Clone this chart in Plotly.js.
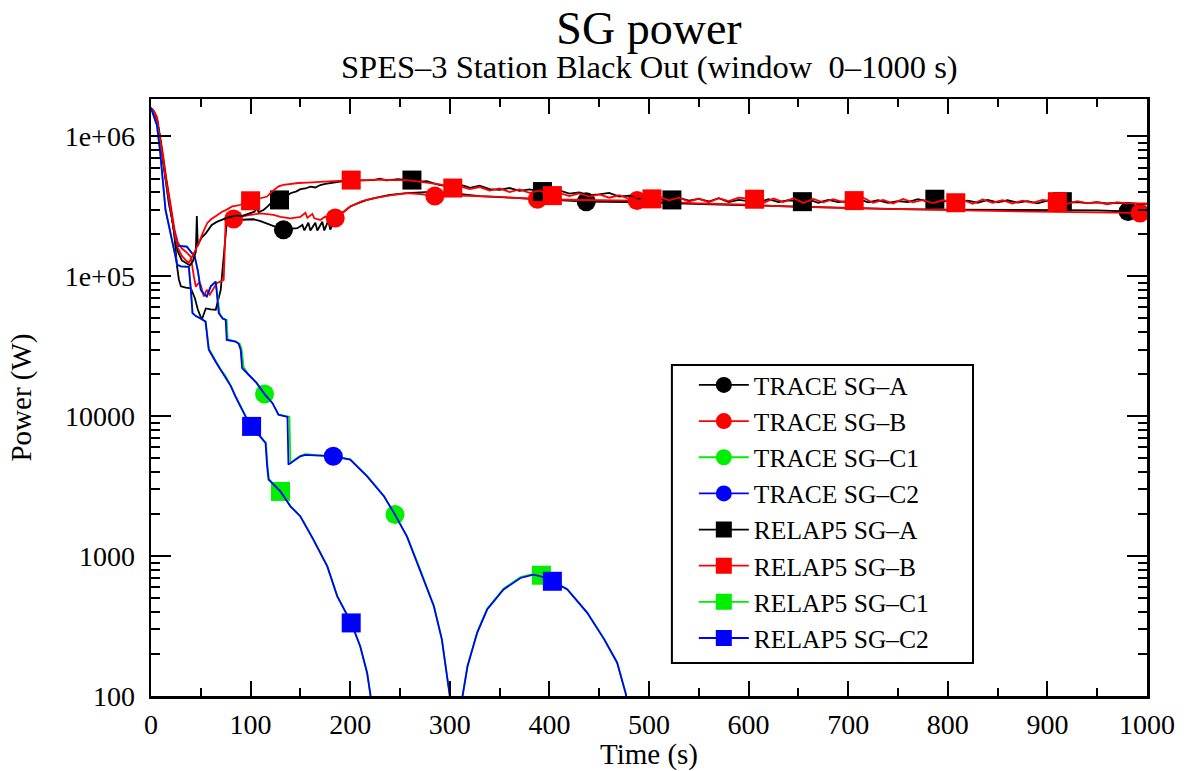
<!DOCTYPE html>
<html>
<head>
<meta charset="utf-8">
<script src="https://cdn.plot.ly/plotly-3.0.1.min.js"></script>
<style>html,body{margin:0;padding:0;background:#fff;}#chart{width:1192px;height:771px;}</style>
</head>
<body>
<div id="chart"></div>
<script>
// ---------------- DATA ----------------
const seriesNames = ['TRACE SG–A','TRACE SG–B','TRACE SG–C1','TRACE SG–C2','RELAP5 SG–A','RELAP5 SG–B','RELAP5 SG–C1','RELAP5 SG–C2'];
const chartTitle = 'SG power';
const chartSubtitle = 'SPES–3 Station Black Out (window  0–1000 s)';

// TRACE SG-A
const tA_x = [0,3,6,9,12,15,18,21,24,26,28,30,35,40,44,47,51,55,60,65,70,73,76,80,85,90,96,103,110,120,127,133,140,147,152,154,158,160,165,167,172,174,178,180,185,190,200,210,217,230,240,257,270,285,300,330,360,400,437,480,520,560,600,650,700,750,800,850,900,950,981,1000];
const tA_y = [1600000,1500000,1350000,1000000,700000,500000,370000,270000,180000,120000,95000,85000,83000,82000,70000,58000,49000,59000,58000,57700,80000,138000,240000,250000,253000,253000,255000,256000,248000,233000,222000,215000,219000,221000,233000,213000,242000,213000,242000,213000,246000,213000,250000,216000,258000,275000,316000,338000,352000,370000,382000,393000,400000,404000,395000,375000,365000,352000,342000,340000,335000,330000,322000,315000,308000,302000,300000,299000,298000,296000,291000,290000];
const tA_mk = [133,437,981];

// TRACE SG-B
const tB_x = [0,3,6,9,12,15,18,21,24,27,31,35,40,43,45,48,50,53,56,59,61,64,66,70,73,75,79,83,90,100,110,123,130,140,150,155,157,162,164,170,175,178,185,192,200,212,224,240,257,270,285,300,330,350,388,420,450,488,520,550,600,635,700,785,850,886,950,993,1000];
const tB_y = [1600000,1520000,1380000,1050000,750000,520000,380000,280000,210000,175000,158000,150000,138000,100000,84500,90000,87000,71800,80200,74000,77800,85000,89300,92000,94400,253000,262000,257000,267000,275000,282000,275000,266000,260000,266000,285000,262000,280000,260000,253000,268000,255000,261000,285000,316000,345000,362000,380000,393000,388000,376000,380000,375000,370000,356000,352000,350000,348000,340000,333000,325000,316000,308000,299000,293000,290000,287000,284000,283000];
const tB_mk = [83,185,285,388,488,993];

// TRACE SG-C1
const tC1_x = [0,3,6,9,12,15,18,21,24,27,32,36,40,44,47,50,53,56,60,65,69,72,76,77,85,89,91,93,98,106,114,122,128,136,139,140,145,150,155,167,183,200,217,234,245,257,270,284,292,297,300,302];
const tC1_y = [1600000,1450000,1300000,950000,650000,450000,330000,260000,200000,165000,163000,163000,150000,138000,110000,80200,75000,71800,85000,91800,54000,50000,48900,35500,34200,33000,30000,22500,19800,17300,14400,12400,10260,9970,9900,4600,4950,5220,5350,5280,5200,4920,3750,2690,1980,1390,810,442,256,148,101,40];
const tC1_mk = [114,245];

// TRACE SG-C2
const tC2_x = [0,3,6,9,12,15,18,21,24,27,32,36,40,44,47,50,53,56,60,65,68,72,75,76,85,88,90,91.5,98,106,114,122,128,135,137,138,145,150,155,167,183,200,217,234,245,257,270,284,292,297,300,302];
const tC2_y = [1600000,1450000,1300000,950000,650000,450000,330000,260000,200000,165000,163000,163000,150000,138000,110000,80200,75000,71800,85000,91800,54600,50000,48900,35100,34200,33000,29900,22100,19800,17300,14400,12400,10260,9970,9900,4510,4890,5170,5300,5230,5170,4890,3720,2670,1980,1380,802,438,254,146,100,40];
const tC2_mk = [183];

// RELAP5 SG-A
const rA_x = [0,3,6,9,12,15,18,21,24,27,31,35,39,42,45,46,47,48,51,55,61,66,71,76,81,86,91,95,100,104,106,108,113,118,123,129,135,140,146,150,155,160,165,170,175,180,185,190,195,200,210,218,223,230,236,240,248,255,262,270,277,284,290,300,310,317,320,330,340,350,360,370,380,393,400,410,420,430,440,450,460,470,480,490,500,510,523,530,540,550,560,570,580,590,600,610,620,630,640,654,660,670,680,690,700,710,720,730,740,750,760,770,780,787,795,800,810,820,830,840,850,860,870,880,890,900,915,920,930,940,950,960,970,980,990,1000];
const rA_y = [1600000,1480000,1300000,980000,680000,480000,350000,260000,190000,150000,130000,125000,120000,128000,150000,270000,165000,173000,190000,203000,233000,245000,253000,262000,267000,272000,270000,275000,282000,290000,310000,288000,298000,320000,350000,352000,370000,393000,405000,420000,425000,438000,432000,450000,458000,465000,470000,476000,480000,478000,485000,490000,488000,500000,485000,488000,495000,490000,488000,475000,480000,463000,450000,440000,452000,438000,430000,445000,420000,415000,428000,408000,418000,404000,395000,412000,390000,398000,380000,385000,395000,372000,378000,360000,372000,355000,352000,365000,348000,358000,343000,362000,340000,352000,345000,338000,356000,340000,350000,342000,355000,336000,352000,340000,345000,358000,338000,350000,335000,345000,340000,356000,343000,356000,340000,350000,335000,348000,336000,352000,338000,350000,337000,345000,333000,348000,342000,335000,340000,334000,338000,333000,336000,332000,331000,330000];
const rA_mk = [129,262,393,523,654,787,915];

// RELAP5 SG-B
const rB_x = [0,3,6,9,12,15,18,21,24,27,31,35,38,41.3,44,48,52,56.4,60,65,71.5,76,81.5,86,90,95,100,105,110,116.6,120,123.3,128,133,140,148,157,165,175,185,192,201,210,220,230,240,250,257,265,275,284,290,297,303,310,320,330,340,350,360,370,380,390,403,410,420,430,440,450,460,470,480,490,503,510,520,530,540,550,560,570,580,590,606,615,625,635,645,655,665,675,685,695,706,715,725,735,745,755,765,775,785,795,808,815,825,835,845,855,865,875,885,895,910,920,930,940,950,960,970,980,990,1000];
const rB_y = [1600000,1500000,1330000,1000000,700000,490000,360000,265000,195000,160000,140000,130000,125000,138000,150000,173000,205000,240000,255000,270000,290000,300000,316000,320000,325000,340000,347000,352000,360000,372000,395000,415000,440000,451000,458000,465000,468000,472000,478000,482000,485000,488000,485000,490000,492000,488000,488000,488000,480000,470000,463000,455000,440000,428000,440000,420000,435000,410000,425000,400000,418000,395000,410000,378000,395000,375000,392000,372000,385000,365000,380000,358000,372000,358000,372000,350000,365000,343000,360000,338000,362000,345000,366000,356000,335000,360000,340000,362000,335000,358000,338000,356000,340000,348000,365000,336000,352000,332000,358000,338000,352000,334000,350000,336000,352000,330000,355000,336000,350000,332000,348000,335000,352000,342000,330000,345000,333000,340000,328000,338000,332000,334000,332000];
const rB_mk = [100,201,303,403,503,606,706,808,910];

// RELAP5 SG-C1
const rC1_x = [0,3,6,9,12,14.6,18,22,26.3,30,34,38,40,41.7,45,50,55,58,65,70,75,80,85,90,95,101,110,115.5,117,118.5,124,130,140,150,163,177,187,201,210,217,220.3,222,null,311,312.8,317.8,327.5,337.5,354,371,384,392,403,418,438,455,468,477,479];
const rC1_y = [1600000,1400000,1200000,800000,500000,298000,230000,165000,121000,118000,117000,117000,80000,54600,52000,50000,47500,30500,24800,21600,19300,16600,13900,11700,10000,8500,7200,6450,4400,3550,3220,2900,2280,1930,1320,850,520,336,229,147,103,40,null,40,100,165,286,420,585,708,745,730,668,580,395,256,174,102,40];
const rC1_mk = [130,392];

// RELAP5 SG-C2
const rC2_x = [0,3,6,9,12,14.6,18,22,26.3,30,34,38,40,41.7,45,50,54.7,58,64.7,70,74.8,80,84.8,90,94.9,101,110,115,116.6,118,124,130,140,150,163,177,187,201,210,217,220.3,222,null,311,312.8,317.8,327.5,337.5,354,371,384,392,403,418,438,455,468,477,479];
const rC2_y = [1600000,1400000,1200000,800000,500000,298000,230000,165000,121000,118000,117000,117000,80000,54600,52000,50000,47500,29900,24600,21500,19200,16500,13800,11600,9970,8460,7180,6440,4380,3520,3200,2900,2270,1920,1312,845,516,333,227,146,102,40,null,40,100,163,283,415,577,698,738,715,661,577,393,254,173,102,40];
const rC2_mk = [101,201,403];

// axis ticks
const xTickVals = [0,100,200,300,400,500,600,700,800,900,1000];
const xMinorVals = [50,150,250,350,450,550,650,750,850,950];
const yTickVals = [100,1000,10000,100000,1000000];
const yTickText = ['100','1000','10000','1e+05','1e+06'];
const yMinorVals = [200,300,400,500,600,700,800,900,2000,3000,4000,5000,6000,7000,8000,9000,20000,30000,40000,50000,60000,70000,80000,90000,200000,300000,400000,500000,600000,700000,800000,900000];

// ---------------- STYLE ----------------
const colors = ['#000000','#ff0000','#00ee00','#0000ff','#000000','#ff0000','#00ee00','#0000ff'];
const symbols = ['circle','circle','circle','circle','square','square','square','square'];
const series = [
  [tA_x,tA_y,tA_mk],[tB_x,tB_y,tB_mk],[tC1_x,tC1_y,tC1_mk],[tC2_x,tC2_y,tC2_mk],
  [rA_x,rA_y,rA_mk],[rB_x,rB_y,rB_mk],[rC1_x,rC1_y,rC1_mk],[rC2_x,rC2_y,rC2_mk]
];

const traces = [];
// legend-only entries
seriesNames.forEach((n,i)=>{
  traces.push({type:'scatter',mode:'lines+markers',name:n,x:[null],y:[null],
    line:{color:colors[i],width:1.8},
    marker:{symbol:symbols[i],color:colors[i],size:16,line:{width:0}},
    legendgroup:'g'+i,hoverinfo:'skip'});
});
series.forEach((s,i)=>{
  const [xs,ys,mk] = s;
  traces.push({type:'scatter',mode:'lines',x:xs,y:ys,showlegend:false,legendgroup:'g'+i,
    line:{color:colors[i],width:1.8},connectgaps:false,hoverinfo:'skip'});
  const mx=[],my=[];
  mk.forEach(m=>{const k=xs.indexOf(m); if(k>=0){mx.push(xs[k]);my.push(ys[k]);}});
  traces.push({type:'scatter',mode:'markers',x:mx,y:my,showlegend:false,legendgroup:'g'+i,
    marker:{symbol:symbols[i],color:colors[i],size:19,line:{width:0}},hoverinfo:'skip'});
});

const FONT = 'Liberation Serif, Times New Roman, serif';
const layout = {
  width:1192,height:771,
  margin:{l:151,r:45,t:99,b:75,pad:0},
  paper_bgcolor:'#ffffff',plot_bgcolor:'#ffffff',
  font:{family:FONT,color:'#000000'},
  title:{text:chartTitle,font:{family:FONT,size:46,color:'#000'},x:0.5,xref:'paper',xanchor:'center',
    y:0.964,yref:'container',yanchor:'middle'},
  annotations:[{text:chartSubtitle,xref:'paper',yref:'paper',x:0.5,y:1.0536,xanchor:'center',yanchor:'middle',
    showarrow:false,font:{family:FONT,size:32.5,color:'#000'}}],
  xaxis:{range:[0,1000],tickmode:'array',tickvals:xTickVals,ticks:'inside',ticklen:15,tickwidth:2,tickcolor:'#000',
    showline:true,linewidth:2.5,linecolor:'#000',mirror:'ticks',showgrid:false,zeroline:false,
    minor:{tickmode:'array',tickvals:xMinorVals,ticks:'inside',ticklen:8,tickwidth:2,tickcolor:'#000',showgrid:false},
    tickfont:{family:FONT,size:28,color:'#000'},ticklabelstandoff:2,
    title:{text:'Time (s)',font:{family:FONT,size:29,color:'#000'},standoff:10}},
  yaxis:{type:'log',range:[2,6.268],tickmode:'array',tickvals:yTickVals,ticktext:yTickText,ticks:'inside',ticklen:20,tickwidth:2,tickcolor:'#000',
    showline:true,linewidth:2.5,linecolor:'#000',mirror:'ticks',showgrid:false,zeroline:false,
    minor:{tickmode:'array',tickvals:yMinorVals,ticks:'inside',ticklen:9,tickwidth:2,tickcolor:'#000',showgrid:false},
    tickfont:{family:FONT,size:28,color:'#000'},ticklabelstandoff:8,
    title:{text:'Power (W)',font:{family:FONT,size:29,color:'#000'},standoff:25}},
  showlegend:true,
  legend:{x:0.545,xanchor:'left',y:0.5597,yanchor:'top',bgcolor:'rgba(0,0,0,0)',borderwidth:0,
    font:{family:FONT,size:25.5,color:'#000'},itemwidth:50,tracegroupgap:0,traceorder:'normal'},
  shapes:[{type:'rect',xref:'paper',yref:'paper',x0:0.523,x1:0.8253,y0:0.0553,y1:0.5544,
    line:{color:'#000',width:2},fillcolor:'rgba(0,0,0,0)',layer:'above'}]
};

Plotly.newPlot('chart',traces,layout,{displayModeBar:false,staticPlot:true});
</script>
</body>
</html>
